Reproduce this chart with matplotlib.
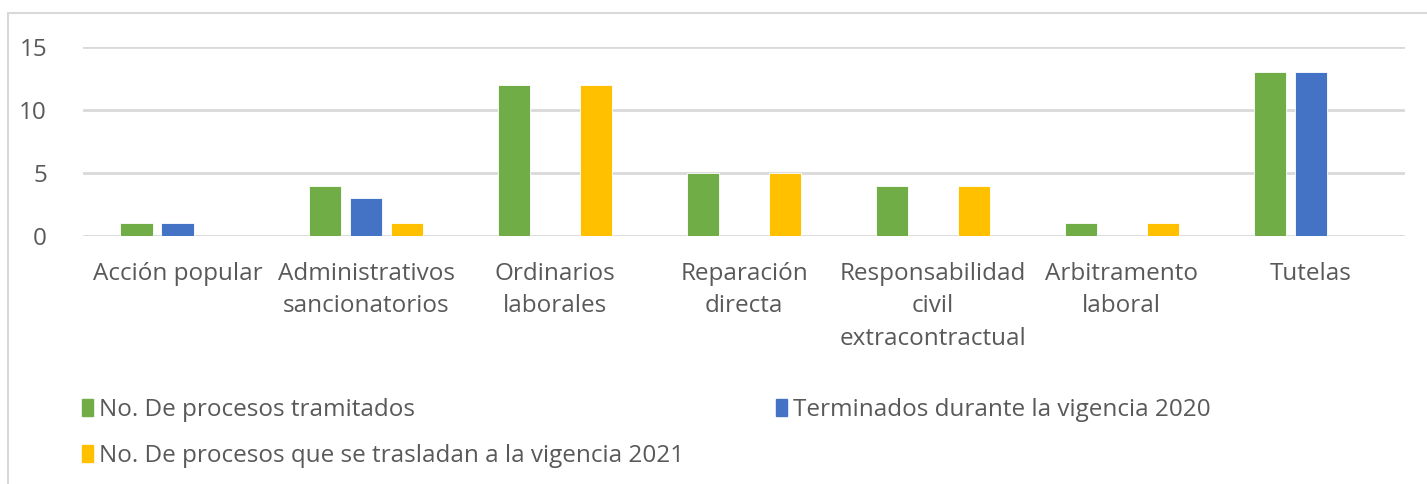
import numpy as np
import matplotlib.pyplot as plt
from matplotlib.patches import Rectangle, Patch

categorias = ["Acción popular", "Administrativos\nsancionatorios", "Ordinarios\nlaborales",
              "Reparación\ndirecta", "Responsabilidad\ncivil\nextracontractual",
              "Arbitramento\nlaboral", "Tutelas"]
tramitados = [1, 4, 12, 5, 4, 1, 13]
terminados = [1, 3, 0, 0, 0, 0, 13]
trasladan = [0, 1, 12, 5, 4, 1, 0]
series = ["No. De procesos tramitados", "Terminados durante la vigencia 2020",
          "No. De procesos que se trasladan a la vigencia 2021"]
colores = ["#70AD47", "#4472C4", "#FFC000"]

plt.rcParams['font.family'] = ['Open Sans', 'DejaVu Sans']
gris = "#595959"

fig = plt.figure(figsize=(14.27, 4.84), dpi=100)
ax = fig.add_axes([0.0582, 0.5124, 0.9264, 0.3906])

x = np.arange(len(categorias))
paso = 0.217
ancho = 0.17
for i, (vals, col) in enumerate(zip([tramitados, terminados, trasladan], colores)):
    ax.bar(x + (i - 1) * paso, vals, ancho, color=col, edgecolor="white", linewidth=0.6, zorder=3)

ax.set_xlim(-0.5, len(categorias) - 0.5)
ax.set_ylim(0, 15)
ax.set_yticks([0, 5, 10, 15])
ax.yaxis.grid(True, color="#d9d9d9", linewidth=2)
ax.set_axisbelow(True)
for s in ax.spines.values():
    s.set_visible(False)
ax.tick_params(axis="both", length=0, colors=gris, labelsize=17.5)
ax.tick_params(axis="y", pad=26)
ax.tick_params(axis="x", pad=19)
ax.set_xticks(x)
ax.set_xticklabels(categorias, linespacing=1.45, va="top")

handles = [Patch(color=colores[0]), Patch(color=colores[2]), Patch(color=colores[1])]
labels = [series[0], series[2], series[1]]
fig.legend(handles, labels, ncol=2, loc="upper left", bbox_to_anchor=(0.042, 0.222),
           frameon=False, fontsize=17.5, labelcolor=gris, handlelength=0.45, handleheight=0.7,
           handletextpad=0.25, columnspacing=3.8, labelspacing=0.9)

fig.patches.append(Rectangle((8 / 1427, -0.1), 1.1, 1 - 13 / 484 + 0.1, transform=fig.transFigure,
                             fill=False, edgecolor="#d9d9d9", linewidth=1.5))

fig.savefig("out.png", dpi=100)
